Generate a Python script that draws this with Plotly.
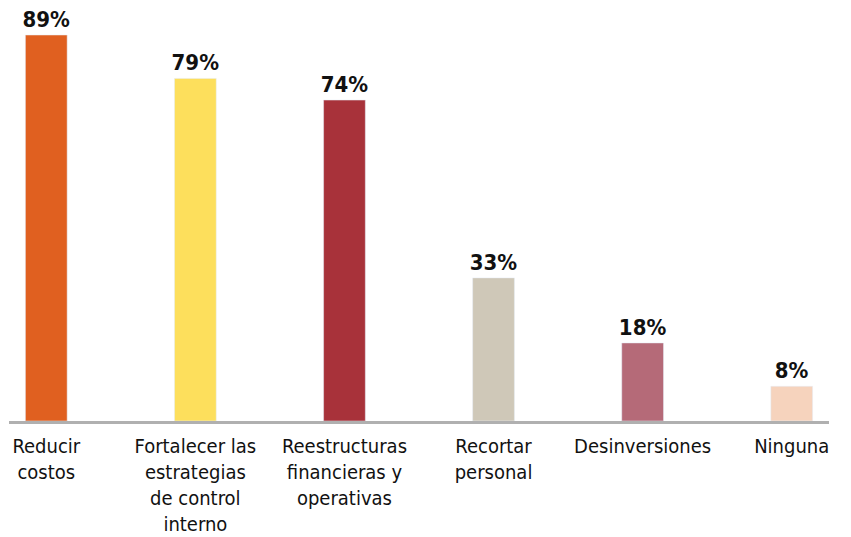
import plotly.graph_objects as go

# datos
categorias = ["Reducir<br>costos", "Fortalecer las<br>estrategias<br>de control<br>interno",
              "Reestructuras<br>financieras y<br>operativas", "Recortar<br>personal",
              "Desinversiones", "Ninguna"]
valores = [89, 79, 74, 33, 18, 8]
colores = ["#E06020", "#FDDF5C", "#A8323A", "#CFC8B8", "#B56A78", "#F6D3BD"]

fuente = "Liberation Sans Narrow, DejaVu Sans Condensed, Arial Narrow, sans-serif"

fig = go.Figure()
fig.add_trace(go.Bar(
    x=categorias,
    y=valores,
    marker_color=colores,
    width=0.28,
    text=[f"{v}%" for v in valores],
    textposition="outside",
    constraintext="none",
    textfont=dict(family=fuente, size=22, color="#111111", weight="bold"),
    cliponaxis=False,
    showlegend=False
))

# la página tiene 8px de margen en el body
fig.update_layout(
    width=843, height=529,
    margin=dict(l=1, r=22, t=1, b=116, autoexpand=False),
    plot_bgcolor="white", paper_bgcolor="white",
    font=dict(family=fuente, size=20, color="#111111"),
)
fig.update_xaxes(
    range=[-0.25, 5.25], automargin=False,
    showline=True, linecolor="#B0B0B0", linewidth=3,
    ticks="", ticklabelstandoff=5, tickangle=0,
    showgrid=False
)
fig.update_yaxes(range=[0, 95], visible=False, showgrid=False, automargin=False)

fig.write_html("out.html")
